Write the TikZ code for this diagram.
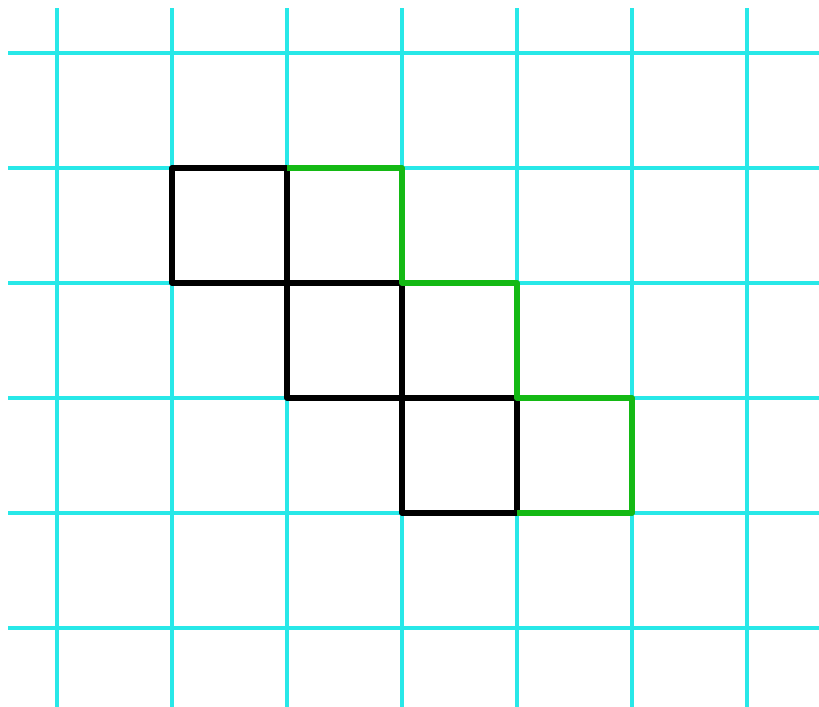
\documentclass[tikz,border=0pt]{standalone}
\definecolor{gridcyan}{RGB}{40,232,232}
\definecolor{pathgreen}{RGB}{20,185,20}
\begin{document}
\begin{tikzpicture}[cell/.style = {draw, black, line width = 1.4pt, line join = round}]
				\tikzstyle{help line}=[gridcyan, line width = 1pt]
				\tikzstyle{green line}=[pathgreen, line width = 1.4pt, line join = round]
				\useasboundingbox (-0.496,-5.687) rectangle (6.626,0.461);
				\draw[style=help line, step=1cm] (-0.426,-5.687) grid (6.626,0.391);
				\draw[cell] (1,-1) rectangle (2,-2);
				\draw[cell] (2,-2) rectangle (3,-3);
				\draw[cell] (3,-3) rectangle (4,-4);
				\draw[style=green line] (2,-1) -- (3,-1) -- (3,-2) -- (4,-2) -- (4,-3) -- (5,-3) -- (5,-4) -- (4,-4);
				\end{tikzpicture}
\end{document}
